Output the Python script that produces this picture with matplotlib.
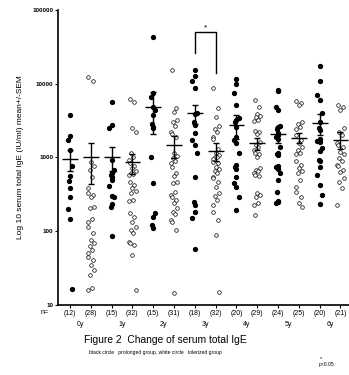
import numpy as np
import matplotlib
matplotlib.use("Agg")
import matplotlib.pyplot as plt

plt.rcParams['font.family'] = ['Liberation Sans', 'DejaVu Sans']

# serum total IgE (IU/ml), one list per group; black = prolonged, white = tolerized
g0_black = [3770, 1950, 1730, 1260, 767, 562, 480, 387, 290, 200, 147, 16.6]
g0_white = [12400, 11000, 870, 770, 675, 550, 380, 327, 310, 295, 215, 205, 145, 134,
            115, 95, 76, 69, 62, 56, 50, 44.6, 40.5, 34.5, 29.5, 25.6, 17, 15.8]
g1_black = [5650, 2800, 2500, 930, 675, 615, 580, 540, 495, 410, 300, 290, 235, 215, 85]
g1_white = [6200, 5700, 2480, 2240, 1150, 1020, 930, 830, 770, 710, 660, 615, 605, 580,
            470, 430, 390, 355, 327, 265, 257, 175, 158, 135, 115, 105, 94, 72, 69, 65, 48, 16]
g2_black = [43500, 7400, 6640, 4800, 4370, 3790, 2880, 2620, 2510, 1025, 457, 175, 158, 122, 110]
g2_white = [15400, 4650, 4170, 3240, 3000, 2700, 2240, 2100, 1920, 1140, 1050, 970, 900, 830,
            750, 620, 560, 470, 450, 345, 310, 290, 265, 240, 205, 184, 170, 142, 135, 104, 14.5]
g3_black = [15400, 12700, 10900, 8900, 4060, 3880, 3050, 2760, 2180, 1740, 1480, 1150,
            550, 250, 230, 184, 150, 58]
g3_white = [8660, 4650, 3560, 2700, 2400, 2240, 1920, 1800, 1300, 1140, 1080, 1020, 1000, 960,
            880, 840, 750, 700, 650, 620, 550, 520, 460, 400, 327, 300, 265, 230, 184, 142, 90, 15]
g4_black = [11800, 9950, 7400, 5150, 3400, 3200, 3050, 2600, 1920, 1740, 1590, 1140, 790,
            750, 700, 550, 445, 400, 295, 196]
g4_white = [6000, 4900, 3850, 3700, 3500, 3240, 3100, 2290, 2200, 2100, 1630, 1500, 1400,
            1260, 1140, 1100, 1000, 710, 680, 650, 610, 580, 560, 333, 310, 290, 240, 225, 166]
g5_black = [8300, 8100, 4900, 4370, 2700, 2620, 2400, 2140, 2000, 1920, 1800, 1400, 1150,
            1120, 1090, 760, 735, 700, 610, 495, 345, 260, 250, 240]
g5_white = [5900, 5500, 5100, 3000, 2880, 2600, 2400, 2000, 1740, 1550, 1410, 1250, 1140,
            1100, 900, 800, 710, 660, 620, 495, 400, 345, 295, 240, 215]
g6_black = [17400, 11000, 7040, 6000, 3990, 3050, 2480, 2340, 1780, 1700, 1600, 1330, 1240,
            930, 900, 750, 575, 425, 310, 235]
g6_white = [5150, 4900, 4450, 2480, 2200, 1990, 1550, 1480, 1410, 1200, 1100, 970, 900, 790,
            760, 675, 640, 520, 470, 380, 230]

groups = [g0_black, g0_white, g1_black, g1_white, g2_black, g2_white, g3_black, g3_white,
          g4_black, g4_white, g5_black, g5_white, g6_black, g6_white]
means = [950, 1000, 1025, 860, 4900, 1480, 3990, 1240, 2760, 1550, 2090, 1860, 2960, 1740]
sems = [300, 560, 360, 270, 2800, 490, 1150, 330, 990, 280, 530, 300, 950, 450]
n_labels = ['(12)', '(28)', '(15)', '(32)', '(15)', '(31)', '(18)', '(32)',
            '(20)', '(29)', '(24)', '(25)', '(20)', '(21)']
years = ['0y', '1y', '2y', '3y', '4y', '5y', '6y']

fig = plt.figure(figsize=(3.49, 3.75), dpi=100)
ax = fig.add_axes([0.166, 0.187, 0.834, 0.786])

jit_black = [0, 0, -0.12, 0, 0.1, 0, -0.05]
jit_white = [-0.12, 0.1, 0, 0.15, -0.05, 0.05, -0.15]

for i, vals in enumerate(groups):
    black = (i % 2 == 0)
    jit = jit_black if black else jit_white
    xs = [i + jit[k % len(jit)] for k in range(len(vals))]
    if black:
        ax.plot(xs, vals, 'o', ms=2.8, color='black', mec='black', zorder=3)
    else:
        ax.plot(xs, vals, 'o', ms=2.6, mfc='white', mec='black', mew=0.5, zorder=3)

x = np.arange(len(groups))
ax.errorbar(x, means, yerr=sems, fmt='none', ecolor='black', elinewidth=1,
            capsize=2.5, capthick=1, zorder=4)
ax.hlines(means, x - 0.38, x + 0.38, color='black', lw=1, zorder=4)

# significance bracket 3y
ax.plot([6, 6, 7, 7], [26000, 50000, 50000, 14000], color='black', lw=1)
ax.text(6.5, 52000, '*', ha='center', va='bottom', fontsize=6)

ax.set_yscale('log')
ax.set_ylim(10, 100000)
ax.set_xlim(-0.58, 13.41)
ax.set_yticks([10, 100, 1000, 10000, 100000])
ax.set_yticklabels(['10', '100', '1000', '10000', '100000'], fontsize=4.5, fontweight='bold')
ax.yaxis.set_minor_locator(matplotlib.ticker.NullLocator())
ax.set_xticks(x)
ax.set_xticklabels(n_labels, fontsize=5)
ax.tick_params(axis='both', length=2, width=0.8, pad=1.5)
ax.tick_params(axis='x', pad=2)
for s in ['top', 'right']:
    ax.spines[s].set_visible(False)
for s in ['left', 'bottom']:
    ax.spines[s].set_linewidth(1.2)

ax.text(-0.045, -0.013, 'n=', transform=ax.transAxes, fontsize=5, ha='center', va='top')
for k, yl in enumerate(years):
    ax.text(2 * k + 0.5, -0.055, yl, transform=ax.get_xaxis_transform(),
            fontsize=5, ha='center', va='top')

fig.text(0.06, 0.58, 'Log 10 serum total IgE (IU/ml) mean+/-SEM', rotation=90,
         fontsize=6, ha='center', va='center')
fig.text(0.475, 0.093, 'Figure 2  Change of serum total IgE', fontsize=7.4, ha='center', va='center')
fig.text(0.445, 0.061, 'black circle   prolonged group, white circle   tolerized group',
         fontsize=3.6, ha='center', va='center')
fig.text(0.92, 0.045, '*', fontsize=4, ha='center', va='center')
fig.text(0.935, 0.027, 'p<0.05', fontsize=3.6, ha='center', va='center')

fig.savefig('out.png', dpi=100)
